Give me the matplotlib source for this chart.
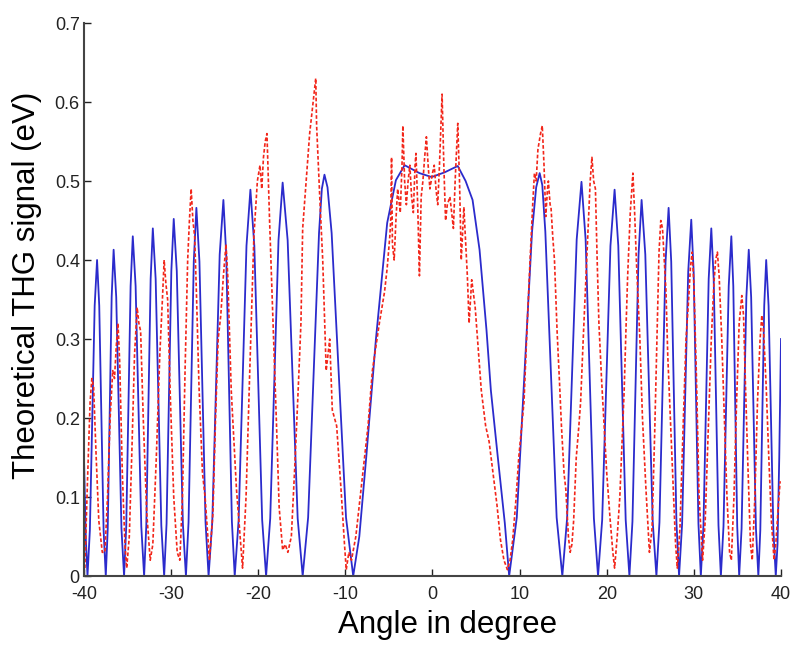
import numpy as np
import matplotlib
matplotlib.use('Agg')
import matplotlib.pyplot as plt

# 字体：Arial 的替代
matplotlib.rcParams['font.family'] = ['Liberation Sans', 'DejaVu Sans']
matplotlib.rcParams['axes.unicode_minus'] = False   # 用普通的减号 "-40"

# 理论曲线（蓝色实线），从图上逐个条纹读出：零点、半高点、峰值
theory_x = [
    -40.0, -39.8, -39.6,
    -39.325, -39.05, -38.775, -38.5, -38.25, -38.0, -37.75, -37.5,
    -37.275, -37.05, -36.825, -36.6, -36.3, -36.0, -35.7, -35.4,
    -35.15, -34.9, -34.65, -34.4, -34.075, -33.75, -33.425, -33.1,
    -32.85, -32.6, -32.35, -32.1, -31.775, -31.45, -31.125, -30.8,
    -30.525, -30.25, -29.975, -29.7, -29.35, -29.0, -28.65, -28.3,
    -28.0, -27.7, -27.4, -27.1, -26.75, -26.4, -26.05, -25.7,
    -25.275, -24.85, -24.425, -24.0, -23.675, -23.35, -23.025, -22.7,
    -22.25, -21.8, -21.35, -20.9, -20.45, -20.0, -19.55, -19.1,
    -18.625, -18.15, -17.675, -17.2, -16.625, -16.05, -15.475, -14.9,
    -14.275, -13.65, -13.025, -12.7, -12.4, -12.05, -11.575, -10.75, -9.925, -9.1,
    -8.4, -7.6, -6.5, -5.2, -4.2, -3.2, -1.5, -0.1, 1.4, 2.9, 3.8,
    4.6, 5.4, 6.2, 6.7, 7.5, 8.3, 8.8,
    9.675, 10.55, 11.425, 11.9, 12.3, 12.6, 12.95, 13.6, 14.25, 14.9,
    15.45, 16.0, 16.55, 17.1, 17.575, 18.05, 18.525, 19.0,
    19.475, 19.95, 20.425, 20.9, 21.325, 21.75, 22.175, 22.6,
    22.95, 23.3, 23.65, 24.0, 24.425, 24.85, 25.275, 25.7,
    26.05, 26.4, 26.75, 27.1, 27.4, 27.7, 28.0, 28.3,
    28.65, 29.0, 29.35, 29.7, 29.975, 30.25, 30.525, 30.8,
    31.1, 31.4, 31.7, 32.0, 32.275, 32.55, 32.825, 33.1,
    33.4, 33.7, 34.0, 34.3, 34.525, 34.75, 34.975, 35.2,
    35.475, 35.75, 36.025, 36.3, 36.575, 36.85, 37.125, 37.4,
    37.625, 37.85, 38.075, 38.3, 38.575, 38.85, 39.125, 39.4,
    39.6, 39.8, 40.0,
]
theory_y = [
    0.15, 0.05, 0.0,
    0.058, 0.200, 0.342, 0.400, 0.342, 0.200, 0.058, 0.0,
    0.060, 0.207, 0.353, 0.413, 0.353, 0.207, 0.060, 0.0,
    0.063, 0.215, 0.367, 0.430, 0.367, 0.215, 0.063, 0.0,
    0.064, 0.220, 0.376, 0.440, 0.376, 0.220, 0.064, 0.0,
    0.066, 0.226, 0.386, 0.452, 0.386, 0.226, 0.066, 0.0,
    0.068, 0.233, 0.398, 0.466, 0.398, 0.233, 0.068, 0.0,
    0.069, 0.238, 0.407, 0.476, 0.407, 0.238, 0.069, 0.0,
    0.071, 0.245, 0.418, 0.489, 0.418, 0.245, 0.071, 0.0,
    0.073, 0.249, 0.425, 0.498, 0.425, 0.249, 0.073, 0.0,
    0.074, 0.254, 0.434, 0.490, 0.508, 0.492, 0.434, 0.254, 0.074, 0.0,
    0.05, 0.151, 0.299, 0.447, 0.501, 0.520, 0.510, 0.505, 0.511, 0.519, 0.500,
    0.476, 0.413, 0.311, 0.235, 0.15, 0.067, 0.0,
    0.074, 0.255, 0.436, 0.492, 0.510, 0.495, 0.436, 0.255, 0.074, 0.0,
    0.073, 0.250, 0.426, 0.499, 0.426, 0.250, 0.073, 0.0,
    0.071, 0.245, 0.418, 0.489, 0.418, 0.245, 0.071, 0.0,
    0.069, 0.238, 0.407, 0.476, 0.407, 0.238, 0.069, 0.0,
    0.068, 0.233, 0.398, 0.466, 0.398, 0.233, 0.068, 0.0,
    0.066, 0.226, 0.385, 0.451, 0.385, 0.226, 0.066, 0.0,
    0.064, 0.220, 0.376, 0.440, 0.376, 0.220, 0.064, 0.0,
    0.063, 0.215, 0.367, 0.430, 0.367, 0.215, 0.063, 0.0,
    0.060, 0.207, 0.353, 0.413, 0.353, 0.207, 0.060, 0.0,
    0.058, 0.200, 0.342, 0.400, 0.342, 0.200, 0.058, 0.0,
    0.04, 0.15, 0.30,
]

exp_x = [
    -39.9, -39.6, -39.3, -39.1, -38.9, -38.6, -38.3, -37.9, -37.6, -37.3,
    -37.0, -36.7, -36.5, -36.3, -36.1, -35.9, -35.6, -35.3, -35.1, -34.8,
    -34.5, -34.2, -33.9, -33.7, -33.5, -33.2, -32.8, -32.4, -32.1, -31.7,
    -31.3, -31.0, -30.8, -30.6, -30.4, -30.1, -29.7, -29.3, -29.0, -28.7,
    -28.4, -28.1, -27.9, -27.7, -27.5, -27.3, -27.1, -26.8, -26.4, -26.1,
    -25.6, -25.2, -24.9, -24.6, -24.3, -24.0, -23.7, -23.5, -23.1, -22.5,
    -21.8, -21.4, -21.0, -20.5, -20.1, -19.8, -19.6, -19.4, -19.2, -19.0,
    -18.7, -18.3, -17.9, -17.6, -17.2, -16.9, -16.6, -16.2, -15.8, -15.4,
    -15.1, -14.9, -14.5, -14.1, -13.8, -13.6, -13.4, -13.3, -13.1, -12.9,
    -12.6, -12.2, -11.8, -11.5, -11.0, -10.5, -10.1, -9.9, -9.6, -9.3,
    -8.8, -8.4, -7.9, -7.4, -6.9, -6.5, -6.1, -5.8, -5.5, -5.2,
    -4.9, -4.8, -4.7, -4.6, -4.4, -4.2, -4.0, -3.7, -3.5, -3.4,
    -3.2, -3.0, -2.8, -2.6, -2.4, -2.2, -2.0, -1.9, -1.7, -1.5,
    -1.3, -1.1, -0.9, -0.7, -0.5, -0.3, 0.0, 0.2, 0.4, 0.6,
    0.8, 1.0, 1.1, 1.3, 1.5, 1.7, 2.0, 2.2, 2.4, 2.6,
    2.8, 2.9, 3.1, 3.3, 3.6, 4.0, 4.2, 4.5, 4.9, 5.3,
    5.6, 6.1, 6.5, 7.0, 7.4, 7.8, 8.2, 8.6, 8.9, 9.2,
    9.6, 9.9, 10.5, 10.8, 11.2, 11.5, 11.7, 11.9, 12.1, 12.4,
    12.6, 12.8, 13.0, 13.2, 13.3, 13.5, 13.6, 13.8, 14.0, 14.3,
    14.6, 14.8, 15.1, 15.3, 15.6, 15.8, 16.0, 16.2, 16.5, 16.8,
    17.0, 17.3, 17.6, 17.9, 18.1, 18.3, 18.5, 18.7, 18.9, 19.1,
    19.4, 19.7, 20.0, 20.4, 20.7, 20.9, 21.2, 21.5, 21.8, 22.0,
    22.2, 22.4, 22.7, 23.0, 23.2, 23.4, 23.6, 23.8, 24.1, 24.5,
    24.9, 25.2, 25.5, 25.8, 26.0, 26.2, 26.4, 26.6, 26.8, 27.0,
    27.3, 27.6, 27.9, 28.1, 28.4, 28.8, 29.1, 29.4, 29.6, 29.8,
    30.0, 30.3, 30.6, 31.0, 31.3, 31.7, 32.0, 32.3, 32.5, 32.7,
    32.9, 33.2, 33.5, 33.8, 34.1, 34.3, 34.6, 34.9, 35.2, 35.5,
    35.7, 35.9, 36.2, 36.5, 36.7, 37.0, 37.3, 37.6, 37.8, 38.0,
    38.3, 38.6, 38.9, 39.2, 39.4, 39.7, 39.9,
]
exp_y = [
    0.01, 0.12, 0.22, 0.25, 0.24, 0.15, 0.07, 0.03, 0.03, 0.10,
    0.20, 0.26, 0.25, 0.29, 0.32, 0.27, 0.13, 0.04, 0.01, 0.05,
    0.16, 0.28, 0.34, 0.32, 0.31, 0.20, 0.08, 0.02, 0.04, 0.15,
    0.28, 0.35, 0.40, 0.37, 0.35, 0.23, 0.10, 0.03, 0.02, 0.10,
    0.26, 0.40, 0.45, 0.49, 0.45, 0.43, 0.36, 0.24, 0.13, 0.10,
    0.02, 0.08, 0.20, 0.30, 0.33, 0.38, 0.42, 0.38, 0.235, 0.11,
    0.01, 0.10, 0.25, 0.43, 0.50, 0.52, 0.49, 0.53, 0.55, 0.56,
    0.45, 0.32, 0.19, 0.087, 0.033, 0.04, 0.03, 0.05, 0.14, 0.24,
    0.32, 0.44, 0.50, 0.56, 0.59, 0.61, 0.63, 0.57, 0.52, 0.47,
    0.40, 0.26, 0.30, 0.21, 0.19, 0.11, 0.04, 0.008, 0.03, 0.02,
    0.05, 0.09, 0.14, 0.19, 0.26, 0.29, 0.32, 0.34, 0.36, 0.39,
    0.43, 0.45, 0.53, 0.42, 0.40, 0.45, 0.49, 0.46, 0.52, 0.57,
    0.50, 0.47, 0.50, 0.52, 0.48, 0.46, 0.52, 0.535, 0.47, 0.38,
    0.48, 0.50, 0.53, 0.556, 0.52, 0.49, 0.51, 0.52, 0.49, 0.47,
    0.52, 0.58, 0.61, 0.52, 0.45, 0.47, 0.48, 0.46, 0.44, 0.50,
    0.55, 0.573, 0.50, 0.40, 0.467, 0.38, 0.32, 0.375, 0.34, 0.28,
    0.235, 0.19, 0.17, 0.125, 0.09, 0.046, 0.02, 0.008, 0.02, 0.045,
    0.10, 0.15, 0.22, 0.30, 0.40, 0.47, 0.51, 0.50, 0.54, 0.56,
    0.57, 0.52, 0.455, 0.49, 0.50, 0.47, 0.467, 0.43, 0.40, 0.31,
    0.24, 0.19, 0.13, 0.11, 0.05, 0.03, 0.04, 0.07, 0.15, 0.19,
    0.22, 0.30, 0.375, 0.45, 0.50, 0.53, 0.50, 0.49, 0.40, 0.32,
    0.25, 0.19, 0.13, 0.07, 0.03, 0.01, 0.05, 0.10, 0.18, 0.235,
    0.31, 0.38, 0.46, 0.51, 0.46, 0.40, 0.35, 0.30, 0.20, 0.11,
    0.03, 0.06, 0.18, 0.32, 0.41, 0.45, 0.44, 0.40, 0.36, 0.28,
    0.20, 0.12, 0.04, 0.01, 0.06, 0.20, 0.30, 0.35, 0.39, 0.41,
    0.37, 0.25, 0.10, 0.02, 0.07, 0.20, 0.30, 0.37, 0.40, 0.41,
    0.38, 0.30, 0.20, 0.10, 0.03, 0.02, 0.10, 0.22, 0.32, 0.355,
    0.33, 0.25, 0.14, 0.04, 0.02, 0.10, 0.22, 0.30, 0.33, 0.31,
    0.24, 0.15, 0.07, 0.02, 0.04, 0.09, 0.12,
]

x_ticks = [-40, -30, -20, -10, 0, 10, 20, 30, 40]
y_ticks = [0, 0.1, 0.2, 0.3, 0.4, 0.5, 0.6, 0.7]
y_tick_labels = ['0', '0.1', '0.2', '0.3', '0.4', '0.5', '0.6', '0.7']

fig = plt.figure(figsize=(8.03, 6.48), dpi=100)
ax = fig.add_axes([0.1046, 0.1111, 0.868, 0.8534])

ax.plot(theory_x, theory_y, color=(0.17, 0.17, 0.8), lw=1.3)
ax.plot(exp_x, exp_y, color=(0.95, 0.15, 0.1), lw=1.2, linestyle=(0, (2.2, 1.3)))

ax.set_xlim(-40, 40)
ax.set_ylim(0, 0.7)
ax.set_xticks(x_ticks)
ax.set_yticks(y_ticks)
ax.set_yticklabels(y_tick_labels)

# MATLAB 风格：只有左、下坐标轴，刻度朝里
ax.spines['top'].set_visible(False)
ax.spines['right'].set_visible(False)
for s in ['left', 'bottom']:
    ax.spines[s].set_linewidth(1.5)
    ax.spines[s].set_color('#444444')
ax.tick_params(direction='in', length=5, width=1, labelsize=13, colors='#222222')
ax.tick_params(axis='y', pad=3)
ax.tick_params(axis='x', pad=7)

ax.set_xlabel('Angle in degree', fontsize=22.5)
ax.set_ylabel('Theoretical THG signal (eV)', fontsize=22.5)
ax.xaxis.set_label_coords(0.522, -0.062)
ax.yaxis.set_label_coords(-0.06, 0.525)

fig.savefig('out.png', dpi=100)
